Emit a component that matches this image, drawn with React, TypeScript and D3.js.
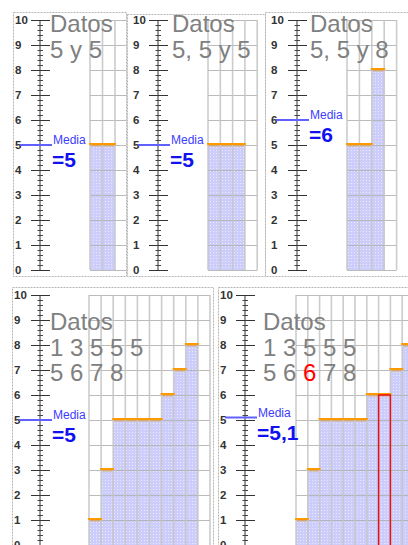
import * as d3 from "d3";

// datos de cada panel
const datos1 = [5, 5];
const datos2 = [5, 5, 5];
const datos3 = [5, 5, 8];
const datos4 = [1, 3, 5, 5, 5, 5, 6, 7, 8];
const datos5 = [1, 3, 5, 5, 5, 5, 6, 6, 7, 8];

const titulos1 = ["Datos", "5 y 5"];
const titulos2 = ["Datos", "5, 5 y 5"];
const titulos3 = ["Datos", "5, 5 y 8"];
const titulos4 = ["Datos", "1 3 5 5 5", "5 6 7 8"];
const titulos5 = ["Datos", "1 3 5 5 5", "5 6 6 7 8"];

const medias = ["=5", "=5", "=6", "=5", "=5,1"];
const etiquetasY = d3.range(0, 11);

// posicion de cada panel en la imagen
const paneles = [
  { datos: datos1, titulos: titulos1, media: medias[0], frame: [13, 12, 113, 264], axisX: 40, labelX: 15, gridX: 90, colW: 12.5, nCols: 3, y0: 270, titleX: 50, titleY: 32, lineH: 26, destacar: -1, rojo: null },
  { datos: datos2, titulos: titulos2, media: medias[1], frame: [127, 14, 138, 262], axisX: 158, labelX: 133, gridX: 208, colW: 12.3, nCols: 4, y0: 270, titleX: 172, titleY: 32, lineH: 26, destacar: -1, rojo: null },
  { datos: datos3, titulos: titulos3, media: medias[2], frame: [265, 12, 150, 264], axisX: 297, labelX: 271, gridX: 347, colW: 12.4, nCols: 4, y0: 270, titleX: 310, titleY: 32, lineH: 26, destacar: -1, rojo: null },
  { datos: datos4, titulos: titulos4, media: medias[3], frame: [12, 287, 201, 270], axisX: 40, labelX: 14, gridX: 89, colW: 12.1, nCols: 10, y0: 545, titleX: 50, titleY: 330, lineH: 25.5, destacar: -1, rojo: null },
  { datos: datos5, titulos: titulos5, media: medias[4], frame: [218, 287, 200, 270], axisX: 245, labelX: 220, gridX: 296, colW: 11.8, nCols: 11, y0: 545, titleX: 263, titleY: 330, lineH: 25.5, destacar: 7, rojo: [2, 2] },
];

const fuente = "Liberation Sans, Arial, sans-serif";

const Panel = ({ p, idx }) => {
  const y = d3.scaleLinear().domain([0, 10]).range([p.y0, p.y0 - 250]);
  const x = d3.scaleLinear().domain([0, p.nCols]).range([p.gridX, p.gridX + p.nCols * p.colW]);
  const menores = d3.range(0, 10.01, 0.2).filter(v => Math.abs(v - Math.round(v)) > 0.01);
  const media = d3.mean(p.datos);
  const [fx, fy, fw, fh] = p.frame;

  return (
    <g>
      <clipPath id={"clip" + idx}>
        <rect x={fx} y={fy} width={fw} height={fh} />
      </clipPath>
      <rect x={fx + 0.5} y={fy + 0.5} width={fw} height={fh} fill="white" stroke="#b4b4b4" strokeDasharray="2,1" />
      <g clipPath={`url(#clip${idx})`}>
        {/* barras */}
        {p.datos.map((d, i) => (
          <rect key={"b" + i} x={x(i)} y={y(d)} width={p.colW} height={y(0) - y(d)} fill="url(#puntos)" />
        ))}
        {/* rejilla */}
        {etiquetasY.map(v => (
          <line key={"h" + v} x1={x(0)} x2={x(p.nCols)} y1={Math.round(y(v)) + 0.5} y2={Math.round(y(v)) + 0.5} stroke="#b0b0b0" strokeWidth={1} opacity={0.85} />
        ))}
        {d3.range(0, p.nCols + 1).map(i => (
          <line key={"v" + i} x1={x(i)} x2={x(i)} y1={y(10)} y2={y(0)} stroke="#c4c4c4" strokeWidth={1.6} opacity={0.85} />
        ))}
        {/* marcas naranjas */}
        {p.datos.map((d, i) => (
          <g key={"c" + i}>
            <rect x={x(i) - 1} y={y(d) - 2} width={p.colW + 2} height={2} fill="#ff9900" />
            <rect x={x(i) + 1} y={y(d)} width={p.colW - 2} height={1.5} fill="#d8a868" opacity={0.8} />
          </g>
        ))}
        {p.destacar >= 0 && (
          <rect x={x(p.destacar)} y={y(p.datos[p.destacar])} width={p.colW} height={y(0) - y(p.datos[p.destacar]) + 5}
            fill="none" stroke="#e81010" strokeWidth={1.5} />
        )}
        {/* eje */}
        <line x1={p.axisX} x2={p.axisX} y1={y(0)} y2={y(10)} stroke="#333" />
        {menores.map((v, i) => (
          <line key={"m" + i} x1={p.axisX - 2.5} x2={p.axisX + 3} y1={Math.round(y(v)) + 0.5} y2={Math.round(y(v)) + 0.5} stroke="#444" />
        ))}
        {etiquetasY.map(v => (
          <g key={"t" + v}>
            <line x1={p.axisX - 9} x2={p.axisX + 10} y1={Math.round(y(v)) + 0.5} y2={Math.round(y(v)) + 0.5} stroke="#333" />
            <text x={p.labelX} y={y(v) + 4} fontSize={11.5} fontWeight="bold" fill="#333" fontFamily={fuente}>{v}</text>
          </g>
        ))}
        {/* media */}
        <line x1={p.labelX + 5} x2={p.axisX + 12} y1={y(media)} y2={y(media)} stroke="#6060ff" strokeWidth={2} />
        <text x={p.axisX + 13} y={y(media) - 1} fontSize={12} fill="#3c3cff" fontFamily={fuente}>Media</text>
        <text x={p.axisX + 12} y={y(media) + 22} fontSize={21} fontWeight="bold" fill="#1010f0" fontFamily={fuente}>{p.media}</text>
        {/* titulo */}
        {p.titulos.map((t, li) => (
          <text key={"l" + li} x={p.titleX} y={p.titleY + li * p.lineH} fontSize={24} fill="#808080" fontFamily={fuente} style={{ whiteSpace: "pre" }}>
            {p.rojo && p.rojo[0] === li
              ? t.split(" ").map((tok, k, arr) => (
                  <tspan key={k} fill={k === p.rojo[1] ? "#ff0000" : "#808080"}>{tok + (k < arr.length - 1 ? " " : "")}</tspan>
                ))
              : t}
          </text>
        ))}
      </g>
    </g>
  );
};

export default function App() {
  return (
    <svg width={408} height={545} style={{ position: "absolute", left: 0, top: 0, background: "white" }}>
      <defs>
        <pattern id="puntos" width={3} height={3} patternUnits="userSpaceOnUse">
          <rect width={3} height={3} fill="#cdcdfb" />
          <rect width={1} height={1} fill="#e8e8ff" />
        </pattern>
      </defs>
      <rect width={408} height={545} fill="white" />
      {paneles.map((p, i) => (
        <Panel key={i} p={p} idx={i} />
      ))}
    </svg>
  );
}
